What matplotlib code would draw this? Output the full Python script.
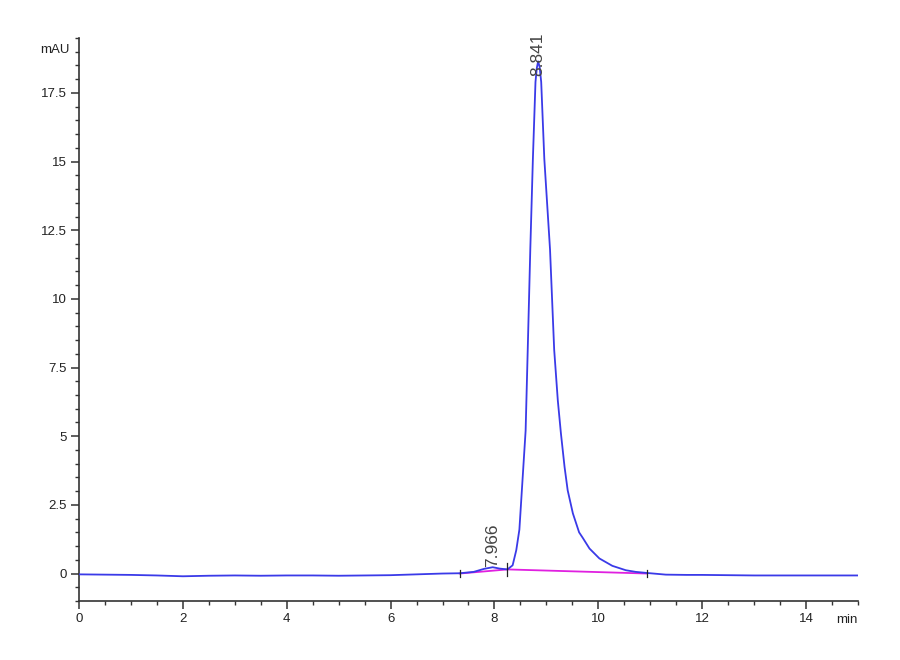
import matplotlib
matplotlib.use("Agg")
import matplotlib.pyplot as plt
from matplotlib.ticker import MultipleLocator

# chromatogram trace (min, mAU)
time = [0.0, 0.5, 1.0, 1.5, 2.0, 2.5, 3.0, 3.5, 4.0, 4.5, 5.0, 5.5, 6.0,
        6.5, 7.0, 7.33, 7.6, 7.8, 7.966, 8.1, 8.25, 8.35, 8.42, 8.48, 8.54,
        8.6, 8.64, 8.69, 8.74, 8.79, 8.815, 8.841, 8.87, 8.9, 8.96, 9.07,
        9.15, 9.22, 9.28, 9.35, 9.41, 9.51, 9.63, 9.70, 9.83, 10.02, 10.27,
        10.53, 10.72, 10.94, 11.3, 11.7, 12.0, 12.5, 13.0, 13.5, 14.0, 14.5,
        15.0]
signal = [-0.03, -0.04, -0.05, -0.07, -0.1, -0.08, -0.07, -0.08, -0.07, -0.07,
          -0.08, -0.07, -0.06, -0.03, 0.0, 0.01, 0.06, 0.17, 0.23, 0.18,
          0.15, 0.3, 0.85, 1.6, 3.4, 5.2, 8.1, 11.8, 15.1, 17.9, 18.4,
          18.65, 18.45, 17.9, 15.1, 11.8, 8.15, 6.3, 5.1, 3.88, 3.03, 2.19,
          1.5, 1.3, 0.91, 0.55, 0.28, 0.12, 0.06, 0.02, -0.04, -0.05, -0.05,
          -0.06, -0.07, -0.07, -0.07, -0.07, -0.07]

# integration baseline (magenta) and peak boundaries
base_time = [7.33, 8.25, 10.94]
base_level = [0.0, 0.15, 0.0]

# peak apexes
peak_time = [7.966, 8.841]
peak_height = [0.23, 18.65]
peak_label = ["7.966", "8.841"]

plt.rcParams['font.family'] = ['Liberation Sans', 'DejaVu Sans']

fig = plt.figure(figsize=(9, 6.6), dpi=100)
ax = fig.add_axes([0.0878, 0.0894, 0.8655, 0.853])

ax.plot(time, signal, color='#3a3ae8', lw=1.3, zorder=3)
ax.plot(base_time, base_level, color='#e020e0', lw=1.3, zorder=2)

# boundary tick marks
for t, b in zip(base_time, base_level):
    size = 0.25 if t == base_time[1] else 0.12
    ax.plot([t, t], [b - size, b + size], color='#222222', lw=0.9, zorder=4)

# peak labels
offsets = [0, -10.5]
for t, h, lab, off in zip(peak_time, peak_height, peak_label, offsets):
    ax.annotate(lab, (t, h), xytext=(0, off), textcoords='offset points',
                rotation=90, ha='center', va='bottom', fontsize=12.5,
                color='#444444', annotation_clip=False, zorder=5)

ax.set_xlim(0, 15)
ax.set_ylim(-1.0, 19.5)

ax.xaxis.set_major_locator(MultipleLocator(2))
ax.xaxis.set_minor_locator(MultipleLocator(0.5))
ax.yaxis.set_minor_locator(MultipleLocator(0.5))
ax.set_yticks([0, 2.5, 5, 7.5, 10, 12.5, 15, 17.5])
ax.set_yticklabels(["0", "2.5", "5", "7.5", "10", "12.5", "15", "17.5"])

for s in ['top', 'right']:
    ax.spines[s].set_visible(False)
for s in ['left', 'bottom']:
    ax.spines[s].set_color('#333333')
    ax.spines[s].set_linewidth(1.2)

ax.tick_params(which='major', length=6, width=1.1, color='#333333',
               labelsize=9.5, labelcolor='#222222', pad=3)
ax.tick_params(which='minor', length=3, width=1.0, color='#333333')

ax.text(-0.012, 0.978, "mAU", transform=ax.transAxes, ha='right', va='center',
        fontsize=9.5, color='#222222')
ax.text(1.0, -0.034, "min", transform=ax.transAxes, ha='right', va='center',
        fontsize=9.5, color='#222222')

fig.savefig("out.png", dpi=100)
